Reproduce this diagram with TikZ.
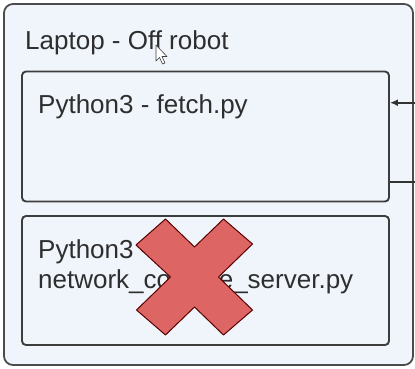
\documentclass[tikz,border=0pt]{standalone}
\usepackage{fontspec}
\setmainfont{Liberation Sans}
\usetikzlibrary{arrows.meta}
\begin{document}
\begin{tikzpicture}[x=1pt,y=-1pt,
  panel/.style={draw=black!70, fill=paneblue, line width=1.8pt, rounded corners=9pt, inner sep=0pt},
  procbox/.style={draw=black!76, fill=paneblue, line width=1.9pt, rounded corners=4pt, inner sep=0pt},
  label/.style={anchor=base west, inner sep=0pt, text=black!82, font=\fontsize{26pt}{30pt}\selectfont},
  link/.style={draw=black!80, line width=1.6pt},
  crossmark/.style={fill=crossred, draw=black!65!red, line width=1pt, line join=round}]
\definecolor{paneblue}{RGB}{240,245,252}
\definecolor{crossred}{RGB}{221,102,100}
\useasboundingbox (0,0) rectangle (415,368);
\fill[white] (0,0) rectangle (415,368);

% laptop panel
\node[panel, minimum width=409pt, minimum height=361pt] (laptop) at (208.5,184.5) {};
\node[label] (laptoptxt) at (25,49) {Laptop - Off robot};

% mouse pointer
\draw[fill=white, draw=black!75, line width=0.6pt, line join=round]
  (156,45) -- (156,61) -- (159.5,57.5) -- (162.5,64) -- (165,63) -- (162,56.5) -- (167,56.5) -- cycle;

% fetch process
\node[procbox, minimum width=367pt, minimum height=130pt] (fetch) at (205.5,136.5) {};
\node[label] (fetchtxt) at (38,113) {Python3 - fetch.py};

% console server process
\node[procbox, minimum width=367pt, minimum height=129pt] (server) at (205.5,280.5) {};
\node[label] (servertxt1) at (38,258) {Python3 -};
\node[label] (servertxt2) at (38,288) {network\_console\_server.py};

% connectors leaving the panel
\coordinate (inlink) at (416,102.7);
\coordinate (outlink) at (416,181.7);
\draw[link, -{Latex[length=8pt,width=7pt]}] (inlink) -- (inlink -| fetch.east);
\draw[link] (outlink -| fetch.east) -- (outlink);

% cross over the console server
\begin{scope}[shift={(194.5,277)}]
\draw[crossmark] (-29,-58) -- (0,-30) -- (29,-58) -- (58,-33) -- (24,0)
  -- (58,33) -- (29,58) -- (0,30) -- (-29,58) -- (-58,33) -- (-24,0)
  -- (-58.5,-32) -- cycle;
\end{scope}
\end{tikzpicture}
\end{document}
